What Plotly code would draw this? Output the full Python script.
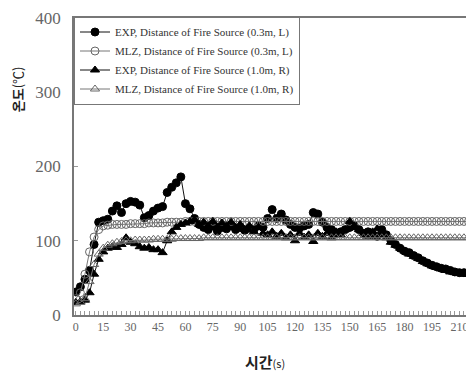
import plotly.graph_objects as go

# time (s), sampled every 2.5 s
time_s = [0, 2.5, 5, 7.5, 10, 12.5, 15, 17.5, 20, 22.5, 25, 27.5, 30, 32.5, 35, 37.5,
          40, 42.5, 45, 47.5, 50, 52.5, 55, 57.5, 60, 62.5, 65, 67.5, 70, 72.5, 75, 77.5,
          80, 82.5, 85, 87.5, 90, 92.5, 95, 97.5, 100, 102.5, 105, 107.5, 110, 112.5, 115, 117.5,
          120, 122.5, 125, 127.5, 130, 132.5, 135, 137.5, 140, 142.5, 145, 147.5, 150, 152.5, 155, 157.5,
          160, 162.5, 165, 167.5, 170, 172.5, 175, 177.5, 180, 182.5, 185, 187.5, 190, 192.5, 195, 197.5,
          200, 202.5, 205, 207.5, 210, 212.5, 215]

exp_03 = [31, 38, 48, 60, 95, 125, 127, 129, 140, 147, 138, 150, 153, 152, 148, 131,
          134, 140, 144, 146, 165, 172, 178, 186, 150, 143, 130, 122, 118, 115, 120, 113,
          118, 116, 120, 115, 118, 114, 117, 115, 120, 118, 130, 142, 130, 136, 128, 122,
          118, 117, 120, 122, 138, 136, 125, 118, 115, 110, 112, 115, 118, 120, 115, 110,
          112, 108, 106, 115, 108, 100, 95, 90, 86, 84, 80, 77, 73, 70, 67, 65,
          63, 62, 60, 58, 57, 57, 56]

mlz_03 = [22, 30, 55, 85, 105, 115, 120, 121, 122, 122, 122, 122, 123, 123, 123, 123,
          124, 124, 124, 124, 125, 125, 125, 125, 126, 126, 126, 126, 126, 126, 126, 126,
          126, 126, 126, 126, 126, 126, 126, 126, 126, 126, 126, 126, 126, 126, 126, 126,
          126, 126, 126, 126, 126, 126, 126, 126, 126, 126, 126, 126, 126, 126, 126, 126,
          126, 126, 126, 126, 126, 126, 126, 126, 126, 126, 126, 126, 126, 126, 126, 126,
          126, 126, 126, 126, 126, 126, 126]

exp_10 = [17, 18, 20, 30, 55, 75, 85, 90, 92, 91, 95, 104, 98, 96, 92, 90,
          91, 88, 88, 84, 100, 112, 118, 122, 124, 126, 128, 122, 125, 120, 126, 118,
          124, 120, 125, 118, 122, 115, 120, 112, 118, 110, 108, 112, 106, 110, 104, 108,
          100, 110, 105, 108, 99, 110, 106, 110, 104, 112, 108, 115, 126, 120, 115, 110,
          106, 112, 116, 108, 104, 98, 94, 90, 86, 82, 79, 76, 72, 69, 66, 64,
          62, 60, 58, 57, 56, 55, 55]

mlz_10 = [15, 17, 22, 45, 68, 82, 90, 94, 96, 98, 99, 100, 100, 101, 101, 101,
          101, 102, 102, 102, 102, 102, 103, 103, 103, 103, 103, 103, 104, 104, 104, 104,
          104, 104, 104, 104, 104, 104, 104, 104, 104, 104, 104, 104, 104, 104, 104, 104,
          104, 104, 104, 104, 104, 104, 104, 104, 104, 104, 104, 104, 104, 104, 104, 104,
          104, 104, 104, 104, 104, 104, 104, 104, 104, 104, 104, 104, 104, 104, 104, 104,
          104, 104, 104, 104, 104, 104, 104]

series_names = ["EXP, Distance of Fire Source (0.3m, L)",
                "MLZ, Distance of Fire Source (0.3m, L)",
                "EXP, Distance of Fire Source (1.0m, R)",
                "MLZ, Distance of Fire Source (1.0m, R)"]

x_tick_vals = [0, 15, 30, 45, 60, 75, 90, 105, 120, 135, 150, 165, 180, 195, 210]
y_tick_vals = [0, 100, 200, 300, 400]

fig = go.Figure()

styles = [
    dict(data=exp_03, symbol="circle", color="#000000", size=8, line_color="#000000", lc="#111111"),
    dict(data=mlz_03, symbol="circle-open", color="#666666", size=8, line_color="#666666", lc="#777777"),
    dict(data=exp_10, symbol="triangle-up", color="#000000", size=8, line_color="#000000", lc="#111111"),
    dict(data=mlz_10, symbol="triangle-up-open", color="#666666", size=8, line_color="#666666", lc="#777777"),
]

for name, st in zip(series_names, styles):
    fig.add_trace(go.Scatter(
        x=time_s, y=st["data"], name=name, mode="lines+markers",
        line=dict(color=st["lc"], width=1),
        marker=dict(symbol=st["symbol"], size=st["size"], color=st["color"],
                    line=dict(color=st["line_color"], width=1)),
    ))

fig.update_layout(
    width=466, height=369,
    margin=dict(l=66, r=0, t=10, b=62),
    paper_bgcolor="white", plot_bgcolor="white",
    showlegend=True,
    legend=dict(
        x=0, y=1.005, xanchor="left", yanchor="top",
        bgcolor="white", bordercolor="#777777", borderwidth=1,
        font=dict(family="Liberation Serif", size=11, color="#333333"),
        tracegroupgap=0, itemwidth=30,
    ),
    xaxis=dict(
        range=[-1, 218], tickvals=x_tick_vals, ticktext=[str(v) for v in x_tick_vals],
        showgrid=False, zeroline=False, showline=True, linecolor="#777777", linewidth=1.5,
        mirror=True, ticks="inside", ticklen=4, tickcolor="#999999",
        minor=dict(dtick=2.5, tick0=0, ticks="inside", ticklen=4, tickcolor="#999999"),
        tickfont=dict(family="Liberation Serif", size=12, color="#666666"),
    ),
    yaxis=dict(
        range=[0, 400], tickvals=y_tick_vals, ticktext=[str(v) for v in y_tick_vals],
        showgrid=False, zeroline=False, showline=True, linecolor="#777777", linewidth=1.5,
        ticks="inside", ticklen=4, tickcolor="#999999", ticklabelstandoff=8,
        tickfont=dict(family="Liberation Serif", size=17, color="#666666"),
    ),
    annotations=[
        dict(text="<b>온도</b>(℃)", xref="paper", yref="paper", x=-0.1425, y=0.76,
             xanchor="center", yanchor="middle", textangle=-90, showarrow=False,
             font=dict(family="Noto Sans CJK KR", size=13, color="#222222")),
        dict(text="<b>시간</b><span style='font-size:11px'>(s)</span>", xref="paper", yref="paper",
             x=0.4775, y=-0.158, xanchor="center", yanchor="middle", showarrow=False,
             font=dict(family="Noto Sans CJK KR", size=15, color="#222222")),
    ],
)

fig.write_html("out.html")
